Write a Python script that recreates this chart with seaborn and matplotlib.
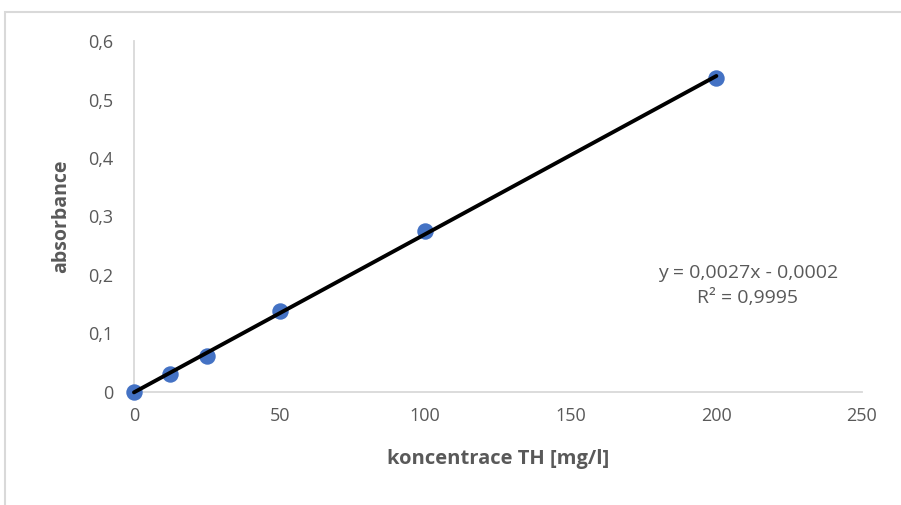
"""Kalibrační přímka TH: absorbance vs. koncentrace (styl Excelu)."""

import matplotlib
matplotlib.use("Agg")
import matplotlib.pyplot as plt
import numpy as np
import seaborn as sns
from matplotlib.patches import Rectangle
from matplotlib.ticker import FuncFormatter

# data
koncentrace = [0, 12.5, 25, 50, 100, 200]
absorbance = [0.0, 0.031, 0.062, 0.138, 0.276, 0.537]
x_ticks = [0, 50, 100, 150, 200, 250]
y_ticks = [0, 0.1, 0.2, 0.3, 0.4, 0.5, 0.6]
rovnice = "y = 0,0027x - 0,0002"
r2_text = "R² = 0,9995"

sns.set_theme(style="white")
plt.rcParams["font.family"] = ["Open Sans", "DejaVu Sans"]

GRAY = "#595959"
AXIS = "#D9D9D9"

fig = plt.figure(figsize=(9.01, 5.05), dpi=100)
ax = fig.add_axes([0.1487, 0.2238, 0.808, 0.695])

# rámeček grafu (oříznutý screenshot)
fig.patches.append(Rectangle((5 / 901, -0.1), 1.2, 1 - 12 / 505 + 0.1,
                             transform=fig.transFigure, fill=False,
                             edgecolor="#D9D9D9", lw=1.5, zorder=0))

sns.regplot(x=koncentrace, y=absorbance, ax=ax, ci=None,
            scatter_kws=dict(s=140, color="#4472C4", alpha=1, zorder=3,
                             linewidths=0, clip_on=False),
            line_kws=dict(color="black", lw=2.8, zorder=4, clip_on=False))

ax.set_xlim(0, 250)
ax.set_ylim(0, 0.6)
ax.set_xticks(x_ticks)
ax.set_yticks(y_ticks)
fmt = FuncFormatter(lambda v, _: f"{v:g}".replace(".", ","))
ax.xaxis.set_major_formatter(fmt)
ax.yaxis.set_major_formatter(fmt)

for side in ("top", "right"):
    ax.spines[side].set_visible(False)
for side in ("left", "bottom"):
    ax.spines[side].set_color(AXIS)
    ax.spines[side].set_linewidth(1.3)
ax.tick_params(axis="both", colors=AXIS, labelcolor=GRAY, labelsize=13,
               length=5, width=1.3, direction="out")
ax.tick_params(axis="x", pad=6)
ax.tick_params(axis="y", pad=10)
ax.set_xlabel("koncentrace TH [mg/l]", fontsize=14.5, fontweight="bold",
              color=GRAY, labelpad=17)
ax.set_ylabel("absorbance", fontsize=14, fontweight="bold", color=GRAY, labelpad=12)

ax.text(0.843, 0.339, rovnice, transform=ax.transAxes, ha="center", va="center",
        fontsize=14, color=GRAY)
ax.text(0.843, 0.268, r2_text, transform=ax.transAxes, ha="center", va="center",
        fontsize=14, color=GRAY)

fig.savefig("out.png", dpi=100, facecolor="white")
